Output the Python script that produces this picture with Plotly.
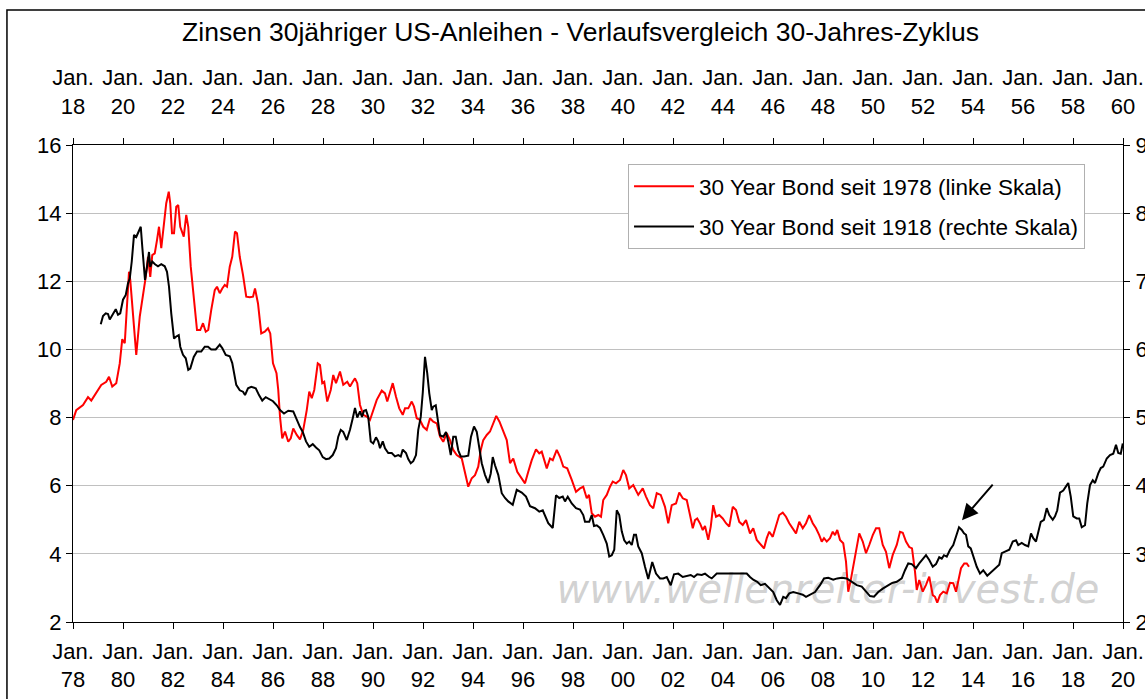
import plotly.graph_objects as go

# ---------------- data ----------------
# 30 Year Bond since 1978 (left scale, bottom axis), decimal years
red_years = [1978.00,1978.13,1978.40,1978.60,1978.73,1978.93,1979.13,1979.33,1979.44,1979.57,1979.73,1979.87,1979.97,
1980.07,1980.13,1980.24,1980.29,1980.40,1980.53,1980.67,1980.80,1980.91,1981.00,1981.09,1981.17,1981.27,1981.36,1981.44,
1981.53,1981.63,1981.73,1981.83,1981.89,1981.96,1982.04,1982.13,1982.21,1982.29,1982.43,1982.53,1982.61,1982.71,1982.83,
1982.96,1983.09,1983.20,1983.31,1983.41,1983.53,1983.67,1983.76,1983.87,1983.97,1984.07,1984.16,1984.27,1984.37,1984.48,
1984.56,1984.67,1984.80,1984.93,1985.07,1985.20,1985.28,1985.40,1985.53,1985.67,1985.80,1985.89,1986.00,1986.14,1986.21,
1986.28,1986.37,1986.48,1986.61,1986.71,1986.81,1986.95,1987.08,1987.21,1987.35,1987.45,1987.55,1987.65,1987.79,1987.88,
1987.97,1988.05,1988.17,1988.31,1988.41,1988.52,1988.68,1988.81,1988.97,1989.08,1989.19,1989.28,1989.37,1989.48,1989.61,
1989.75,1989.88,1990.01,1990.15,1990.35,1990.48,1990.57,1990.68,1990.79,1990.92,1991.05,1991.19,1991.28,1991.41,1991.55,
1991.64,1991.75,1991.88,1992.01,1992.15,1992.28,1992.41,1992.55,1992.68,1992.81,1992.95,1993.08,1993.21,1993.35,1993.55,
1993.68,1993.81,1993.95,1994.08,1994.21,1994.31,1994.41,1994.55,1994.68,1994.81,1994.93,1995.06,1995.19,1995.35,1995.48,
1995.61,1995.77,1995.95,1996.08,1996.21,1996.35,1996.52,1996.65,1996.75,1996.84,1996.95,1997.08,1997.19,1997.35,1997.48,
1997.61,1997.77,1997.95,1998.12,1998.28,1998.41,1998.55,1998.64,1998.75,1998.88,1999.01,1999.12,1999.21,1999.35,1999.48,
1999.59,1999.72,1999.88,2000.01,2000.12,2000.25,2000.41,2000.61,2000.79,2000.92,2001.08,2001.21,2001.35,2001.51,2001.68,
2001.81,2001.95,2002.12,2002.25,2002.39,2002.55,2002.68,2002.79,2002.88,2002.97,2003.09,2003.19,2003.28,2003.41,2003.51,
2003.61,2003.72,2003.85,2003.99,2004.12,2004.25,2004.39,2004.52,2004.65,2004.79,2004.92,2005.08,2005.21,2005.35,2005.51,
2005.64,2005.75,2005.85,2005.99,2006.12,2006.25,2006.39,2006.52,2006.65,2006.79,2006.92,2007.05,2007.19,2007.32,2007.45,
2007.59,2007.72,2007.85,2007.95,2008.04,2008.15,2008.28,2008.39,2008.48,2008.57,2008.68,2008.81,2008.92,2009.01,2009.11,
2009.21,2009.35,2009.45,2009.59,2009.72,2009.85,2009.99,2010.12,2010.25,2010.39,2010.52,2010.65,2010.79,2010.95,2011.08,
2011.19,2011.32,2011.45,2011.56,2011.68,2011.75,2011.85,2011.99,2012.12,2012.25,2012.39,2012.48,2012.57,2012.68,2012.81,
2012.95,2013.08,2013.21,2013.32,2013.43,2013.52,2013.65,2013.75,2013.84]
red_values = [7.93,8.22,8.37,8.60,8.50,8.72,8.96,9.05,9.20,8.91,9.01,9.59,10.30,
10.18,10.86,12.28,12.04,10.96,9.84,10.96,11.55,12.13,12.72,12.13,12.77,12.82,13.21,13.60,
12.97,13.70,14.29,14.63,14.29,13.41,13.41,14.19,14.24,13.60,13.31,13.95,13.60,12.43,11.45,
10.57,10.57,10.77,10.52,10.57,11.16,11.74,11.84,11.65,11.79,11.89,11.84,12.43,12.72,13.46,
13.41,12.72,12.19,11.55,11.53,11.55,11.79,11.35,10.47,10.52,10.62,10.47,9.59,9.30,8.81,
8.03,7.39,7.59,7.29,7.39,7.68,7.49,7.36,7.64,8.22,8.76,8.57,8.81,9.59,9.54,
9.01,9.05,8.47,8.81,9.25,9.01,9.35,8.96,9.05,8.91,9.05,9.15,9.01,8.37,8.08,
8.03,7.93,8.22,8.52,8.79,8.71,8.47,8.76,9.01,8.61,8.27,8.08,8.27,8.27,8.47,
8.32,7.98,7.93,7.73,7.64,7.98,7.88,7.83,7.44,7.29,7.54,7.34,7.05,6.90,6.80,
6.36,5.97,6.22,6.31,6.56,7.05,7.34,7.49,7.59,7.83,8.05,7.88,7.64,7.34,6.66,
6.80,6.41,6.22,6.07,6.41,6.75,7.07,6.95,7.00,6.80,6.51,6.80,6.75,7.05,6.85,
6.56,6.51,6.17,5.82,5.92,5.97,5.63,5.73,5.19,5.09,5.14,5.09,5.58,5.73,5.97,
6.12,6.07,6.17,6.46,6.31,5.92,6.02,5.73,5.92,5.68,5.43,5.34,5.78,5.73,5.38,
4.90,5.43,5.48,5.80,5.63,5.58,5.14,4.75,4.99,5.04,4.88,4.70,4.82,4.41,4.80,
5.43,5.09,5.14,5.04,4.90,4.80,5.38,5.29,4.94,4.85,4.99,4.60,4.75,4.41,4.26,
4.16,4.46,4.65,4.50,4.80,5.14,5.21,5.09,4.90,4.75,4.60,4.94,4.75,4.90,5.14,
4.90,4.75,4.55,4.36,4.46,4.36,4.46,4.65,4.55,4.70,4.41,4.31,3.77,2.89,3.23,
3.67,4.21,4.60,4.36,4.02,4.26,4.55,4.75,4.75,4.26,4.06,3.58,3.97,4.26,4.65,
4.62,4.36,4.20,4.16,3.48,2.94,3.23,2.89,3.09,3.33,2.79,2.74,2.57,2.79,2.89,
2.84,3.15,3.14,2.89,3.28,3.58,3.72,3.72,3.62]

# 30 Year Bond since 1918 (right scale, top axis), decimal years
black_years = [1919.11,1919.20,1919.31,1919.40,1919.47,1919.60,1919.71,1919.80,1919.89,1920.00,1920.11,1920.20,1920.27,
1920.35,1920.44,1920.53,1920.61,1920.71,1920.77,1920.88,1920.96,1921.04,1921.09,1921.17,1921.28,1921.40,1921.53,1921.67,
1921.76,1921.84,1921.93,1922.04,1922.13,1922.23,1922.29,1922.40,1922.51,1922.61,1922.69,1922.83,1922.96,1923.13,1923.27,
1923.40,1923.53,1923.71,1923.87,1923.97,1924.11,1924.27,1924.37,1924.47,1924.53,1924.67,1924.80,1924.88,1925.00,1925.13,
1925.31,1925.44,1925.57,1925.71,1925.89,1926.00,1926.15,1926.28,1926.44,1926.61,1926.81,1926.95,1927.08,1927.19,1927.32,
1927.45,1927.59,1927.72,1927.85,1927.99,1928.12,1928.25,1928.39,1928.52,1928.61,1928.71,1928.81,1928.95,1929.08,1929.19,
1929.28,1929.37,1929.48,1929.56,1929.64,1929.72,1929.81,1929.91,1930.01,1930.12,1930.21,1930.28,1930.39,1930.48,1930.61,
1930.75,1930.88,1931.01,1931.11,1931.19,1931.32,1931.41,1931.51,1931.61,1931.72,1931.81,1931.91,1931.99,1932.08,1932.17,
1932.25,1932.35,1932.41,1932.51,1932.59,1932.68,1932.81,1932.92,1933.01,1933.11,1933.21,1933.31,1933.41,1933.51,1933.64,
1933.81,1933.92,1934.04,1934.15,1934.24,1934.35,1934.48,1934.61,1934.71,1934.79,1934.88,1935.01,1935.15,1935.28,1935.41,
1935.59,1935.75,1935.95,1936.12,1936.28,1936.48,1936.65,1936.79,1936.88,1937.01,1937.19,1937.32,1937.45,1937.59,1937.68,
1937.79,1937.95,1938.12,1938.28,1938.41,1938.48,1938.65,1938.75,1938.84,1938.95,1939.08,1939.21,1939.35,1939.45,1939.55,
1939.65,1939.75,1939.85,1939.95,1940.05,1940.15,1940.25,1940.35,1940.44,1940.52,1940.61,1940.75,1940.88,1941.01,1941.17,
1941.32,1941.48,1941.61,1941.75,1941.91,1942.04,1942.21,1942.39,1942.55,1942.71,1942.84,1942.97,1943.15,1943.28,1943.45,
1943.55,1943.75,1944.01,1944.28,1944.55,1944.79,1944.95,1945.08,1945.21,1945.37,1945.51,1945.68,1945.88,1946.01,1946.15,
1946.28,1946.41,1946.52,1946.65,1946.81,1947.01,1947.19,1947.32,1947.48,1947.68,1947.88,1948.04,1948.21,1948.41,1948.57,
1948.75,1948.95,1949.15,1949.35,1949.55,1949.75,1949.88,1950.04,1950.21,1950.39,1950.55,1950.75,1950.95,1951.15,1951.28,
1951.41,1951.55,1951.72,1951.85,1951.99,1952.12,1952.25,1952.39,1952.52,1952.65,1952.75,1952.84,1952.95,1953.08,1953.21,
1953.32,1953.44,1953.55,1953.64,1953.72,1953.81,1953.91,1954.01,1954.15,1954.28,1954.41,1954.57,1954.75,1954.92,1955.05,
1955.15,1955.28,1955.45,1955.59,1955.72,1955.81,1955.95,1956.08,1956.21,1956.32,1956.41,1956.52,1956.61,1956.71,1956.84,
1956.95,1957.05,1957.19,1957.28,1957.37,1957.48,1957.61,1957.72,1957.81,1957.91,1958.01,1958.15,1958.25,1958.35,1958.48,
1958.57,1958.68,1958.79,1958.88,1959.01,1959.11,1959.21,1959.35,1959.48,1959.61,1959.72,1959.81,1959.91,1959.99]
black_values = [6.37,6.49,6.53,6.52,6.44,6.53,6.59,6.51,6.53,6.73,6.80,6.97,7.04,
7.29,7.68,7.65,7.73,7.80,7.51,7.02,7.21,7.43,7.21,7.29,7.25,7.22,7.25,7.22,
7.14,6.92,6.53,6.16,6.19,6.21,6.04,5.92,5.87,5.70,5.72,5.89,5.97,5.97,6.04,
6.04,6.00,6.00,6.07,6.02,5.92,5.90,5.80,5.62,5.48,5.40,5.38,5.33,5.43,5.45,
5.43,5.33,5.25,5.30,5.26,5.24,5.18,5.11,5.06,5.10,5.09,4.96,4.86,4.79,4.65,
4.57,4.61,4.56,4.52,4.42,4.39,4.40,4.45,4.55,4.72,4.82,4.79,4.67,4.82,4.99,
5.14,5.00,5.09,5.01,5.10,5.11,5.01,4.65,4.62,4.71,4.65,4.55,4.65,4.55,4.48,
4.48,4.43,4.45,4.43,4.53,4.48,4.39,4.33,4.36,4.45,4.82,5.01,5.36,5.89,5.65,
5.36,5.11,5.16,5.18,4.96,4.74,4.72,4.79,4.65,4.45,4.72,4.72,4.52,4.43,4.43,
4.44,4.72,4.87,4.79,4.57,4.33,4.16,4.04,4.18,4.42,4.30,4.16,3.89,3.82,3.77,
3.72,3.94,3.90,3.84,3.70,3.67,3.62,3.64,3.55,3.45,3.38,3.86,3.82,3.84,3.77,
3.84,3.74,3.67,3.65,3.57,3.47,3.47,3.57,3.41,3.42,3.38,3.28,3.15,2.96,2.98,
3.06,3.64,3.57,3.33,3.20,3.15,3.18,3.13,3.28,3.28,3.11,3.01,2.81,2.63,2.88,
2.71,2.64,2.64,2.66,2.54,2.70,2.71,2.66,2.68,2.69,2.66,2.70,2.69,2.71,2.66,
2.64,2.71,2.71,2.71,2.71,2.71,2.71,2.66,2.62,2.59,2.54,2.56,2.49,2.44,2.32,
2.25,2.37,2.35,2.42,2.44,2.42,2.40,2.37,2.40,2.44,2.54,2.64,2.65,2.62,2.64,
2.65,2.64,2.59,2.54,2.52,2.44,2.38,2.37,2.44,2.49,2.53,2.57,2.59,2.64,2.76,
2.86,2.85,2.79,2.86,2.93,2.98,2.91,2.81,2.85,2.95,2.93,2.98,2.96,3.06,3.13,
3.25,3.39,3.35,3.30,3.28,3.11,3.08,2.96,2.81,2.71,2.76,2.68,2.74,2.79,2.84,
3.01,3.03,3.06,3.18,3.20,3.13,3.16,3.13,3.11,3.30,3.23,3.18,3.33,3.47,3.50,
3.67,3.57,3.50,3.55,3.64,3.90,3.93,3.99,4.04,3.84,3.55,3.52,3.52,3.39,3.42,
3.74,4.01,4.08,4.04,4.18,4.26,4.28,4.40,4.45,4.47,4.60,4.48,4.47,4.62]

bottom_ticks = list(range(1978, 2021, 2))
bottom_labels = ["Jan.<br>%02d" % (y % 100) for y in bottom_ticks]
top_ticks = list(range(1918, 1961, 2))
top_labels = ["Jan.<br>%02d" % (y % 100) for y in top_ticks]

title_text = "Zinsen 30jähriger US-Anleihen - Verlaufsvergleich 30-Jahres-Zyklus"
name_red = "30 Year Bond seit 1978 (linke Skala)"
name_black = "30 Year Bond seit 1918 (rechte Skala)"
watermark = "www.wellenreiter-invest.de"

FONT = "Liberation Sans, Arial, sans-serif"
TICKSIZE = 22

fig = go.Figure()

# watermark behind the lines
fig.add_trace(go.Scatter(
    x=[2008.2], y=[2.86], mode="text", text=[watermark],
    textfont=dict(family="DejaVu Sans, Verdana, sans-serif", size=40,
                  color="rgba(165,165,165,0.5)", style="italic"),
    showlegend=False, hoverinfo="skip", xaxis="x", yaxis="y"))

fig.add_trace(go.Scatter(
    x=red_years, y=red_values, mode="lines", name=name_red, legendgroup="a",
    line=dict(color="#ff0000", width=2), xaxis="x", yaxis="y"))

fig.add_trace(go.Scatter(
    x=black_years, y=black_values, mode="lines", name=name_black, legendgroup="b",
    line=dict(color="#000000", width=2), xaxis="x2", yaxis="y2"))

axis_common = dict(showline=True, linecolor="black", linewidth=1.3,
                   ticks="outside", tickcolor="black", ticklen=6, tickwidth=1,
                   tickfont=dict(family=FONT, size=TICKSIZE, color="black"),
                   zeroline=False, automargin=False)

fig.update_layout(
    width=1145, height=699,
    margin=dict(l=73, r=22, t=145, b=77),
    paper_bgcolor="white", plot_bgcolor="white",
    font=dict(family=FONT, color="black"),
    title=dict(text=title_text, x=0.507, xref="container", xanchor="center",
               y=0.954, yref="container", yanchor="middle",
               font=dict(family=FONT, size=26.5, color="black")),
    xaxis=dict(range=[1978, 2020], tickmode="array", tickvals=bottom_ticks,
               ticktext=bottom_labels, showgrid=False, ticklabelstandoff=3, **axis_common),
    xaxis2=dict(range=[1918, 1960], tickmode="array", tickvals=top_ticks,
                ticktext=top_labels, showgrid=False, side="top", overlaying="x",
                anchor="y", ticklabelstandoff=15, **axis_common),
    yaxis=dict(range=[2, 16], dtick=2, showgrid=True, gridcolor="#c0c0c0",
               gridwidth=1, **axis_common),
    yaxis2=dict(range=[2, 9], dtick=1, showgrid=False, side="right",
                overlaying="y", anchor="x", ticklabelstandoff=1, **axis_common),
    legend=dict(x=0.5286, y=0.96, xanchor="left", yanchor="top",
                bgcolor="white", bordercolor="#b0b0b0", borderwidth=1,
                font=dict(family=FONT, size=22.5, color="black"),
                itemwidth=60, traceorder="grouped", tracegroupgap=8),
    showlegend=True,
    shapes=[dict(type="rect", xref="paper", yref="paper",
                 x0=-0.0629, x1=1.3, y0=-0.6, y1=1.283,
                 line=dict(color="black", width=1.5), fillcolor="rgba(0,0,0,0)",
                 layer="above")],
    annotations=[dict(x=2013.56, y=4.99, xref="x", yref="y",
                      ax=32, ay=-37, axref="pixel", ayref="pixel",
                      showarrow=True, arrowhead=2, arrowsize=1.6, arrowwidth=2,
                      arrowcolor="black", text="")],
)

fig.write_html("out.html", config={"displayModeBar": False},
               post_script="document.body.style.margin='0';document.body.style.overflow='hidden';")
